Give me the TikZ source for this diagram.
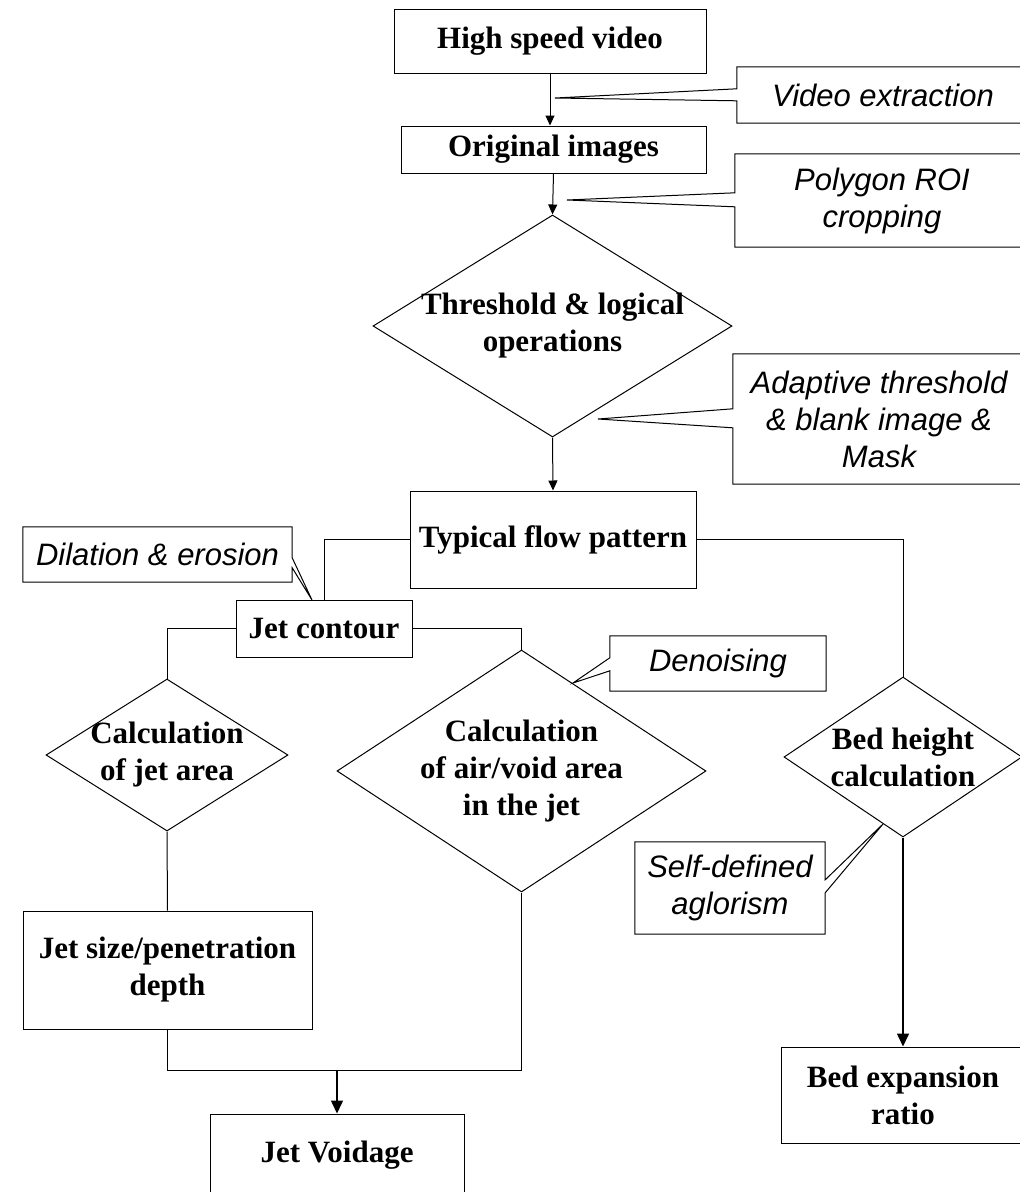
\documentclass[tikz,border=0pt]{standalone}
\usepackage{fontspec}
\setmainfont{Liberation Serif}
\setsansfont{Liberation Sans}
\usetikzlibrary{arrows.meta,shapes.geometric}
\tikzset{
  block/.style={draw,line width=1pt,align=center,inner sep=2pt,
    font=\fontsize{31}{37}\selectfont\bfseries},
  decision/.style={diamond,draw,line width=1pt,inner sep=0pt},
  dtext/.style={align=center,inner sep=0pt,
    font=\fontsize{31}{37}\selectfont\bfseries},
  remark/.style={align=center,inner sep=2pt,
    font=\fontsize{31}{37}\selectfont\sffamily\itshape},
  outline/.style={line width=1pt},
  link/.style={line width=1pt},
  flow/.style={-{Triangle[length=10pt,width=9pt]},line width=1pt},
  bigflow/.style={-{Triangle[length=13pt,width=12pt]},line width=1.5pt}
}

\begin{document}
\begin{tikzpicture}[x=1pt,y=-1pt]
  \useasboundingbox (0,0) rectangle (1020,1192);
  \clip (0,0) rectangle (1020,1192);
  \node[block,minimum width=312pt,minimum height=64pt] (hsv) at (550,41) {High speed video};
  \node[block,minimum width=305pt,minimum height=47pt] (orig) at (553.5,149.5) {Original images};
  \node[decision,minimum width=359pt,minimum height=222pt] (thr) at (552.5,326) {};
  \node[dtext] (thrtxt) at (thr) {Threshold \& logical\\operations};
  \node[block,minimum width=286pt,minimum height=97pt] (tfp) at (553,539.5) {Typical flow pattern};
  \node[block,minimum width=176pt,minimum height=57pt] (jc) at (324,628.5) {Jet contour};
  \node[decision,minimum width=242pt,minimum height=152pt] (cja) at (167,755) {};
  \node[dtext] (cjatxt) at (cja) {Calculation\\of jet area};
  \node[decision,minimum width=369pt,minimum height=242pt] (cav) at (521.5,771) {};
  \node[dtext] (cavtxt) at (cav) {Calculation\\of air/void area\\in the jet};
  \node[decision,minimum width=238pt,minimum height=160pt] (bhc) at (903,757) {};
  \node[dtext] (bhctxt) at (bhc) {Bed height\\calculation};
  \node[block,minimum width=289pt,minimum height=118pt] (jsp) at (167.5,970) {Jet size/penetration\\depth};
  \node[block,minimum width=254pt,minimum height=82pt] (jv) at (337,1155) {Jet Voidage};
  \node[block,minimum width=244pt,minimum height=96pt] (ber) at (903,1095) {Bed expansion\\ratio};

  \node[remark,minimum width=292pt,minimum height=56pt] (vex) at (883,95) {Video extraction};
  \node[remark,minimum width=294pt,minimum height=93pt] (pro) at (882,200.5) {Polygon ROI\\cropping};
  \node[remark,minimum width=292pt,minimum height=130pt] (adp) at (879,419) {Adaptive threshold\\\& blank image \&\\Mask};
  \node[remark,minimum width=269pt,minimum height=55pt] (dil) at (157.5,554.5) {Dilation \& erosion};
  \node[remark,minimum width=216pt,minimum height=55pt] (den) at (718,663.5) {Denoising};
  \node[remark,minimum width=190pt,minimum height=92pt] (sda) at (730,888) {Self-defined\\aglorism};
  \coordinate (vexTip) at (555,98);
  \coordinate (proTip) at (567,200);
  \coordinate (adpTip) at (598,419);
  \coordinate (dilTip) at (312,600);
  \coordinate (denTip) at (573,683);
  \coordinate (sdaTip) at (883,824);
  \coordinate (join) at (337,1070);

  \draw[outline] (vex.north east) -- (vex.north west) -- ([yshift=-22pt]vex.north west) -- (vexTip)
    -- ([yshift=-34pt]vex.north west) -- (vex.south west) -- (vex.south east);
  \draw[outline] (pro.north east) -- (pro.north west) -- ([yshift=-39pt]pro.north west) -- (proTip)
    -- ([yshift=-53pt]pro.north west) -- (pro.south west) -- (pro.south east);
  \draw[outline] (adp.north east) -- (adp.north west) -- ([yshift=-55pt]adp.north west) -- (adpTip)
    -- ([yshift=-74pt]adp.north west) -- (adp.south west) -- (adp.south east);
  \draw[outline] (dil.north west) -- (dil.north east) -- ([yshift=-31pt]dil.north east) -- (dilTip)
    -- ([yshift=-41pt]dil.north east) -- (dil.south east) -- (dil.south west) -- cycle;
  \draw[outline] (den.north east) -- (den.north west) -- ([yshift=-22pt]den.north west) -- (denTip)
    -- ([yshift=-35pt]den.north west) -- (den.south west) -- (den.south east) -- cycle;
  \draw[outline] (sda.north west) -- (sda.north east) -- ([yshift=-38pt]sda.north east) -- (sdaTip)
    -- ([yshift=-51pt]sda.north east) -- (sda.south east) -- (sda.south west) -- cycle;

  \draw[flow] (hsv.south) -- (hsv.south |- orig.north);
  \draw[flow] (orig.south) -- (thr.north);
  \draw[flow] (thr.south) -- (tfp.north);
  \draw[link] (tfp.west) -| (jc.north);
  \draw[link] (tfp.east) -| (bhc.north);
  \draw[link] (jc.west) -| (cja.north);
  \draw[link] (jc.east) -| (cav.north);
  \draw[link] (cja.south) -- (jsp.north);
  \draw[link] (jsp.south) |- (join) -| (cav.south);
  \draw[bigflow] (join) -- (jv.north);
  \draw[bigflow] (bhc.south) -- (ber.north);
\end{tikzpicture}
\end{document}
